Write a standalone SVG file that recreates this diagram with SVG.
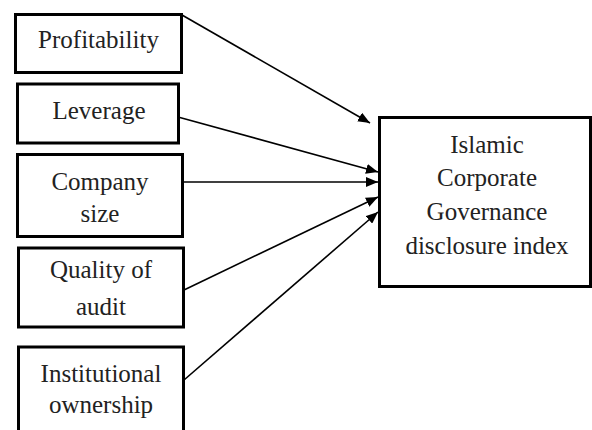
<svg xmlns="http://www.w3.org/2000/svg" width="592" height="430" viewBox="0 0 592 430">
<style>
.box{fill:#fff;stroke:#000;stroke-width:3}
.c{stroke:#000;stroke-width:1.6;fill:none}
</style>
<defs>
<marker id="ah" markerUnits="userSpaceOnUse" markerWidth="12" markerHeight="10" refX="12" refY="5" orient="auto">
<path d="M0,0 L12,5 L0,10 z" fill="#000"/>
</marker>
</defs>
<g font-family="Liberation Serif" font-size="25" fill="#222" text-anchor="middle">
<g id="n-profitability">
<rect class="box" x="15.5" y="14.5" width="166" height="58"/>
<text font-family="Liberation Serif" x="98.5" y="48">Profitability</text>
</g>
<g id="n-leverage">
<rect class="box" x="17.5" y="84" width="161" height="59"/>
<text font-family="Liberation Serif" x="99" y="119">Leverage</text>
</g>
<g id="n-size">
<rect class="box" x="17.5" y="154.5" width="165" height="82"/>
<text font-family="Liberation Serif" x="100" y="190">Company</text>
<text font-family="Liberation Serif" x="100" y="222">size</text>
</g>
<g id="n-audit">
<rect class="box" x="18.5" y="248" width="165" height="79"/>
<text font-family="Liberation Serif" x="101" y="278">Quality of</text>
<text font-family="Liberation Serif" x="101" y="315">audit</text>
</g>
<g id="n-institutional">
<rect class="box" x="18.5" y="347" width="165" height="90"/>
<text font-family="Liberation Serif" x="101" y="382">Institutional</text>
<text font-family="Liberation Serif" x="101" y="413">ownership</text>
</g>
<g id="n-index">
<rect class="box" x="379.5" y="117.5" width="211" height="169"/>
<text font-family="Liberation Serif" x="487" y="153">Islamic</text>
<text font-family="Liberation Serif" x="487" y="186">Corporate</text>
<text font-family="Liberation Serif" x="487" y="220">Governance</text>
<text font-family="Liberation Serif" x="487" y="254">disclosure index</text>
</g>
</g>
<g id="connectors">
<line class="c" x1="182" y1="15" x2="370" y2="123" marker-end="url(#ah)"/>
<line class="c" x1="178" y1="117" x2="378" y2="172" marker-end="url(#ah)"/>
<line class="c" x1="183" y1="182" x2="378" y2="182" marker-end="url(#ah)"/>
<line class="c" x1="184" y1="290" x2="378" y2="197" marker-end="url(#ah)"/>
<line class="c" x1="184" y1="380" x2="378" y2="212" marker-end="url(#ah)"/>
</g>
</svg>
